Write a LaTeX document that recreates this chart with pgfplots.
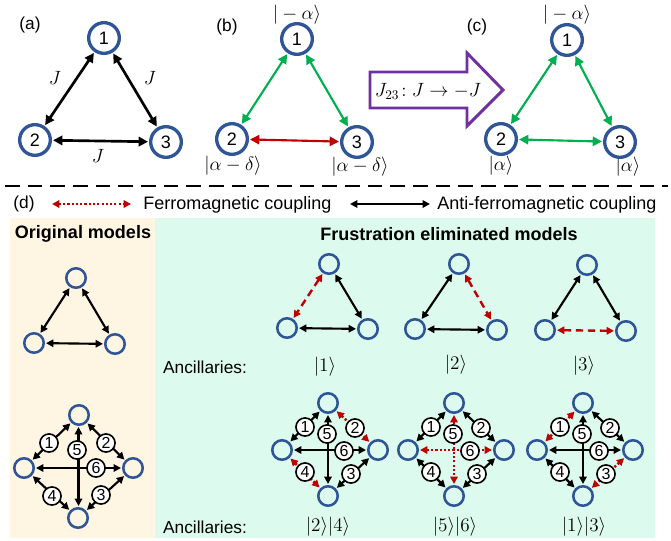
\documentclass[border=0pt]{standalone}
\usepackage{fontspec}
\setmainfont{Liberation Sans}
\usepackage{pgfplots}
\pgfplotsset{compat=1.18}
\usetikzlibrary{arrows.meta}
\definecolor{bl}{HTML}{2F5597}
\definecolor{gr}{HTML}{00B050}
\definecolor{rd}{HTML}{C00000}
\definecolor{pu}{HTML}{7030A0}
\definecolor{beige}{HTML}{FFF5E3}
\definecolor{mint}{HTML}{DDFAEE}
\tikzset{
  bigtip/.style={arrows={Triangle[length=7pt,width=7pt]-Triangle[length=7pt,width=7pt]}},
  smtip/.style={arrows={Triangle[length=5.5pt,width=5.5pt]-Triangle[length=5.5pt,width=5.5pt]}},
  A/.style={line width=2pt, bigtip, shorten <=13.5pt, shorten >=13.5pt},
  B/.style={line width=1.6pt, bigtip, shorten <=13.5pt, shorten >=13.5pt},
  T/.style={line width=1.6pt, smtip, shorten <=9pt, shorten >=9pt},
  fm/.style={rd, line width=1.8pt, dash pattern=on 5.5pt off 3.5pt},
  fd/.style={rd, line width=1.9pt, dash pattern=on 1.6pt off 1.6pt},
  mt/.style={font=\fontsize{15}{15}\selectfont, inner sep=1pt},
  mtop/.style={font=\fontsize{14}{14}\selectfont, inner sep=0pt},
}
\pgfplotsset{
  big/.style={only marks, mark=o, mark size=11.5pt, mark options={draw=bl, line width=2.5pt},
    nodes near coords, point meta=explicit symbolic, nodes near coords align=center,
    every node near coord/.append style={font=\fontsize{13.5}{13.5}\selectfont, text=black, inner sep=0pt}},
  sm/.style={only marks, mark=o, mark size=7.3pt, mark options={draw=bl, line width=1.9pt}},
  lab/.style={only marks, mark=*, mark size=6.8pt, mark options={fill=white, draw=black, line width=1.2pt},
    nodes near coords, point meta=explicit symbolic, nodes near coords align=center,
    every node near coord/.append style={font=\fontsize{12}{12}\selectfont, text=black, inner sep=0pt}},
}
\begin{document}
\begin{tikzpicture}
\begin{axis}[scale only axis, width=503.25pt, height=405pt,
  xmin=0, xmax=671, ymin=0, ymax=540, y dir=reverse,
  axis lines=none, clip=false]
\path (axis cs:0,0) rectangle (axis cs:671,540);
% backgrounds
\addplot[fill=beige, draw=none] coordinates {(10,218) (155,218) (155,538) (10,538)} -- cycle;
\addplot[fill=mint, draw=none] coordinates {(155,218) (655,218) (655,538) (155,538)} -- cycle;
% ---------- (a)
\addplot[A, black] coordinates {(104,38) (35,140)};
\addplot[A, black] coordinates {(104,38) (166,142)};
\addplot[A, black] coordinates {(35,140) (166,142)};
\addplot[big] table[meta=l] {
x y l
104 38 1
35 140 2
166 142 3
};
\node[font=\fontsize{13}{13}\selectfont] at (axis cs:30,25) {(a)};
\node[mt] at (axis cs:55,78) {$J$};
\node[mt] at (axis cs:150,78) {$J$};
\node[mt] at (axis cs:98,156) {$J$};
% ---------- (b)
\addplot[B, gr] coordinates {(297,39) (232,139)};
\addplot[B, gr] coordinates {(297,39) (357,142)};
\addplot[B, rd] coordinates {(232,139) (357,142)};
\addplot[big] table[meta=l] {
x y l
297 39 1
232 139 2
357 142 3
};
\node[font=\fontsize{13}{13}\selectfont] at (axis cs:227,27) {(b)};
\node[mtop] at (axis cs:297,15) {$|-\alpha\rangle$};
\node[mt] at (axis cs:233,166) {$|\alpha-\delta\rangle$};
\node[mt] at (axis cs:360,167) {$|\alpha-\delta\rangle$};
% purple arrow
\addplot[pu, line width=2.2pt] coordinates {(370,72) (467,72) (467,53) (503,90) (467,126) (467,108) (370,108)} -- cycle;
\node[font=\fontsize{14}{14}\selectfont] at (axis cs:428,91) {$J_{23}\!:J\rightarrow -J$};
% ---------- (c)
\addplot[B, gr] coordinates {(567,40) (501,139)};
\addplot[B, gr] coordinates {(567,40) (620,142)};
\addplot[B, gr] coordinates {(501,139) (620,142)};
\addplot[big] table[meta=l] {
x y l
567 40 1
501 139 2
620 142 3
};
\node[font=\fontsize{13}{13}\selectfont] at (axis cs:477,27) {(c)};
\node[mtop] at (axis cs:567,15) {$|-\alpha\rangle$};
\node[mt] at (axis cs:501,166) {$|\alpha\rangle$};
\node[mt] at (axis cs:628,167) {$|\alpha\rangle$};
% dashed separator
\addplot[black, line width=2.2pt, dash pattern=on 11pt off 6pt] coordinates {(5,186) (668,186)};
% legend row
\node[font=\fontsize{13}{13}\selectfont] at (axis cs:24,204) {(d)};
\addplot[fd, smtip] coordinates {(52,204) (131,204)};
\node[anchor=west, font=\fontsize{13.5}{13.5}\selectfont, inner sep=0pt] at (axis cs:143,205) {Ferromagnetic coupling};
\addplot[black, line width=1.6pt, smtip] coordinates {(350,204) (430,204)};
\node[anchor=west, font=\fontsize{13.5}{13.5}\selectfont, inner sep=0pt] at (axis cs:437,205) {Anti-ferromagnetic coupling};
% titles
\node[font=\bfseries\fontsize{13.5}{13.5}\selectfont] at (axis cs:83,234) {Original models};
\node[font=\bfseries\fontsize{13.5}{13.5}\selectfont] at (axis cs:449,234) {Frustration eliminated models};
\node[font=\fontsize{13}{13}\selectfont] at (axis cs:205,367) {Ancillaries:};
\node[font=\fontsize{13}{13}\selectfont] at (axis cs:205,527) {Ancillaries:};
% ---------- original triangle
\addplot[T, black] coordinates {(76,278) (34,343)};
\addplot[T, black] coordinates {(76,278) (115,344)};
\addplot[T, black] coordinates {(34,343) (115,344)};
\addplot[sm] coordinates {(76,278) (34,343) (115,344)};
% frustration triangles
\addplot[T, fm] coordinates {(329,264) (287,328)};
\addplot[T, black] coordinates {(329,264) (368,329)};
\addplot[T, black] coordinates {(287,328) (368,329)};
\addplot[sm] coordinates {(329,264) (287,328) (368,329)};
\node[mt] at (axis cs:325,367) {$|1\rangle$};
\addplot[T, black] coordinates {(459,264) (415,329)};
\addplot[T, fm] coordinates {(459,264) (497,330)};
\addplot[T, black] coordinates {(415,329) (497,330)};
\addplot[sm] coordinates {(459,264) (415,329) (497,330)};
\node[mt] at (axis cs:456,365) {$|2\rangle$};
\addplot[T, black] coordinates {(587,265) (545,330)};
\addplot[T, black] coordinates {(587,265) (626,331)};
\addplot[T, fm] coordinates {(545,330) (626,331)};
\addplot[sm] coordinates {(587,265) (545,330) (626,331)};
\node[mt] at (axis cs:584,366) {$|3\rangle$};
% ---------- original diamond
\addplot[T, black] coordinates {(79,415) (24,468)};
\addplot[T, black] coordinates {(79,415) (133,468)};
\addplot[T, black] coordinates {(133,468) (78,518)};
\addplot[T, black] coordinates {(24,468) (78,518)};
\addplot[T, black] coordinates {(78.5,415) (78.5,518)};
\addplot[T, black] coordinates {(24,468) (133,468)};
\addplot[sm] coordinates {(79,415) (24,468) (133,468) (78,518)};
\addplot[lab] table[meta=l] {
x y l
49 443 1
106 443 2
101 495 3
52 496 4
77 450 5
96 468 6
};
% ---------- diamond |2>|4>
\addplot[T, black] coordinates {(328,403) (282,450)};
\addplot[T, fd] coordinates {(328,403) (378,450)};
\addplot[T, black] coordinates {(378,450) (328,496)};
\addplot[T, fd] coordinates {(282,450) (328,496)};
\addplot[T, black] coordinates {(328,403) (328,496)};
\addplot[T, black] coordinates {(282,450) (378,450)};
\addplot[sm] coordinates {(328,403) (282,450) (378,450) (328,496)};
\addplot[lab] table[meta=l] {
x y l
305 427 1
355 428 2
351 474 3
305 472 4
327 434 5
344 451 6
};
\node[mt] at (axis cs:328,527) {$|2\rangle|4\rangle$};
% ---------- diamond |5>|6>
\addplot[T, black] coordinates {(454,403) (408,450)};
\addplot[T, black] coordinates {(454,403) (504,450)};
\addplot[T, black] coordinates {(504,450) (454,496)};
\addplot[T, black] coordinates {(408,450) (454,496)};
\addplot[T, fd] coordinates {(454,403) (454,496)};
\addplot[T, fd] coordinates {(408,450) (504,450)};
\addplot[sm] coordinates {(454,403) (408,450) (504,450) (454,496)};
\addplot[lab] table[meta=l] {
x y l
431 427 1
481 428 2
477 474 3
431 472 4
453 434 5
470 451 6
};
\node[mt] at (axis cs:455,527) {$|5\rangle|6\rangle$};
% ---------- diamond |1>|3>
\addplot[T, fd] coordinates {(583,403) (537,450)};
\addplot[T, black] coordinates {(583,403) (633,450)};
\addplot[T, fd] coordinates {(633,450) (583,496)};
\addplot[T, black] coordinates {(537,450) (583,496)};
\addplot[T, black] coordinates {(583,403) (583,496)};
\addplot[T, black] coordinates {(537,450) (633,450)};
\addplot[sm] coordinates {(583,403) (537,450) (633,450) (583,496)};
\addplot[lab] table[meta=l] {
x y l
560 427 1
610 428 2
606 474 3
560 472 4
582 434 5
599 451 6
};
\node[mt] at (axis cs:584,527) {$|1\rangle|3\rangle$};
\end{axis}
\end{tikzpicture}
\end{document}
